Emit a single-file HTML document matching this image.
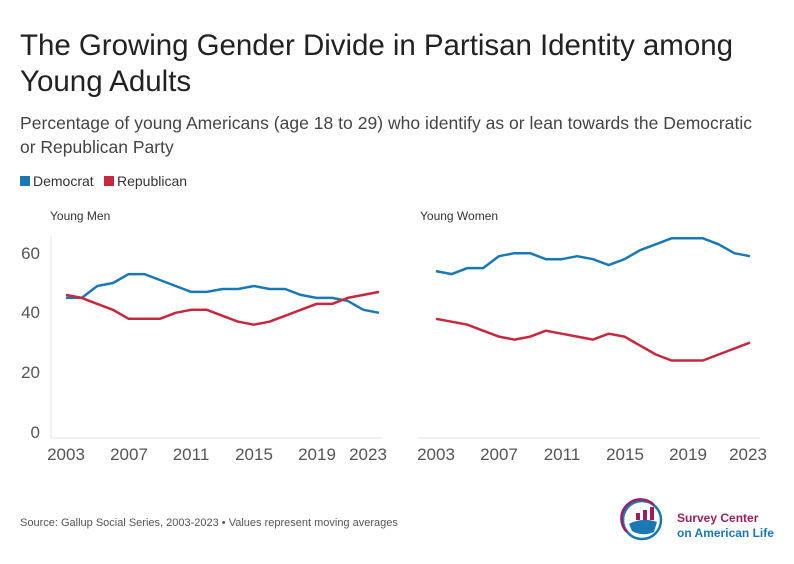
<!DOCTYPE html>
<html><head><meta charset="utf-8"><style>
body{margin:0;background:#fff;width:794px;height:559px;overflow:hidden;font-family:"Liberation Sans",sans-serif}
</style></head><body>
<svg width="794" height="559" xmlns="http://www.w3.org/2000/svg" font-family="Liberation Sans, sans-serif">
<text x="20" y="55" font-size="29.5" fill="#222" textLength="713">The Growing Gender Divide in Partisan Identity among</text>
<text x="20" y="91" font-size="29.5" fill="#222">Young Adults</text>
<text x="20" y="129" font-size="17.5" fill="#444" textLength="732">Percentage of young Americans (age 18 to 29) who identify as or lean towards the Democratic</text>
<text x="20" y="153" font-size="17.5" fill="#444">or Republican Party</text>
<rect x="20" y="176" width="10" height="10" fill="#1a79b5"/>
<text x="33" y="186" font-size="14" fill="#333">Democrat</text>
<rect x="104" y="176" width="10" height="10" fill="#c8283e"/>
<text x="117" y="186" font-size="14" fill="#333">Republican</text>
<text x="50" y="220" font-size="12" fill="#333">Young Men</text>
<text x="420" y="220" font-size="12" fill="#333">Young Women</text>
<g stroke="#e3e3e3" stroke-width="1">
<line x1="51" y1="236" x2="51" y2="438"/><line x1="51" y1="438" x2="382" y2="438"/>
<line x1="418" y1="438" x2="760" y2="438"/>
</g>
<g font-size="17" fill="#555" text-anchor="end">
<text x="40" y="259">60</text><text x="40" y="318">40</text><text x="40" y="378">20</text><text x="40" y="438">0</text>
</g>
<g font-size="17" fill="#555" text-anchor="middle">
<text x="66" y="460">2003</text><text x="129" y="460">2007</text><text x="191" y="460">2011</text><text x="254" y="460">2015</text><text x="317" y="460">2019</text><text x="368" y="460">2023</text>
<text x="436" y="460">2003</text><text x="499" y="460">2007</text><text x="562" y="460">2011</text><text x="625" y="460">2015</text><text x="688" y="460">2019</text><text x="748" y="460">2023</text>
</g>
<g id="lines" fill="none" stroke-width="2.5" stroke-linejoin="round"></g>
<text x="20" y="526" font-size="11" fill="#555">Source: Gallup Social Series, 2003-2023 • Values represent moving averages</text>
<circle cx="642" cy="520" r="19" fill="none" stroke="#1a79b5" stroke-width="2.5"/>
<path d="M627 532 A19 19 0 0 1 654 505" fill="none" stroke="#9b1f5e" stroke-width="2.5"/>
<rect x="636" y="513" width="4" height="7" fill="#9b1f5e"/><rect x="643" y="510" width="4" height="10" fill="#9b1f5e"/><rect x="650" y="507" width="4" height="13" fill="#9b1f5e"/>
<path d="M629 524 Q642 517 657 522 L654 532 Q642 537 632 531Z" fill="#1a79b5"/>
<text x="677" y="522" font-size="12" font-weight="bold" fill="#9b1f5e">Survey Center</text>
<text x="677" y="537" font-size="12" font-weight="bold" fill="#1a79b5">on American Life</text>
</svg>
<script>
const md=[45,45,49,50,53,53,51,49,47,47,48,48,49,48,48,46,45,45,44,41,40];
const mr=[46,45,43,41,38,38,38,40,41,41,39,37,36,37,39,41,43,43,45,46,47];
const wd=[54,53,55,55,59,60,60,58,58,59,58,56,58,61,63,65,65,65,63,60,59];
const wr=[38,37,36,34,32,31,32,34,33,32,31,33,32,29,26,24,24,24,26,28,30];
const g=document.getElementById('lines');
function pl(d,x0,x1,c){const p=d.map((v,i)=>(x0+(x1-x0)*i/20).toFixed(1)+','+(432-v*2.98).toFixed(1)).join(' ');
const e=document.createElementNS('http://www.w3.org/2000/svg','polyline');e.setAttribute('points',p);e.setAttribute('stroke',c);g.appendChild(e);}
pl(md,66,379,'#1a79b5');pl(mr,66,379,'#c8283e');pl(wd,436,750,'#1a79b5');pl(wr,436,750,'#c8283e');
</script>
</body></html>
